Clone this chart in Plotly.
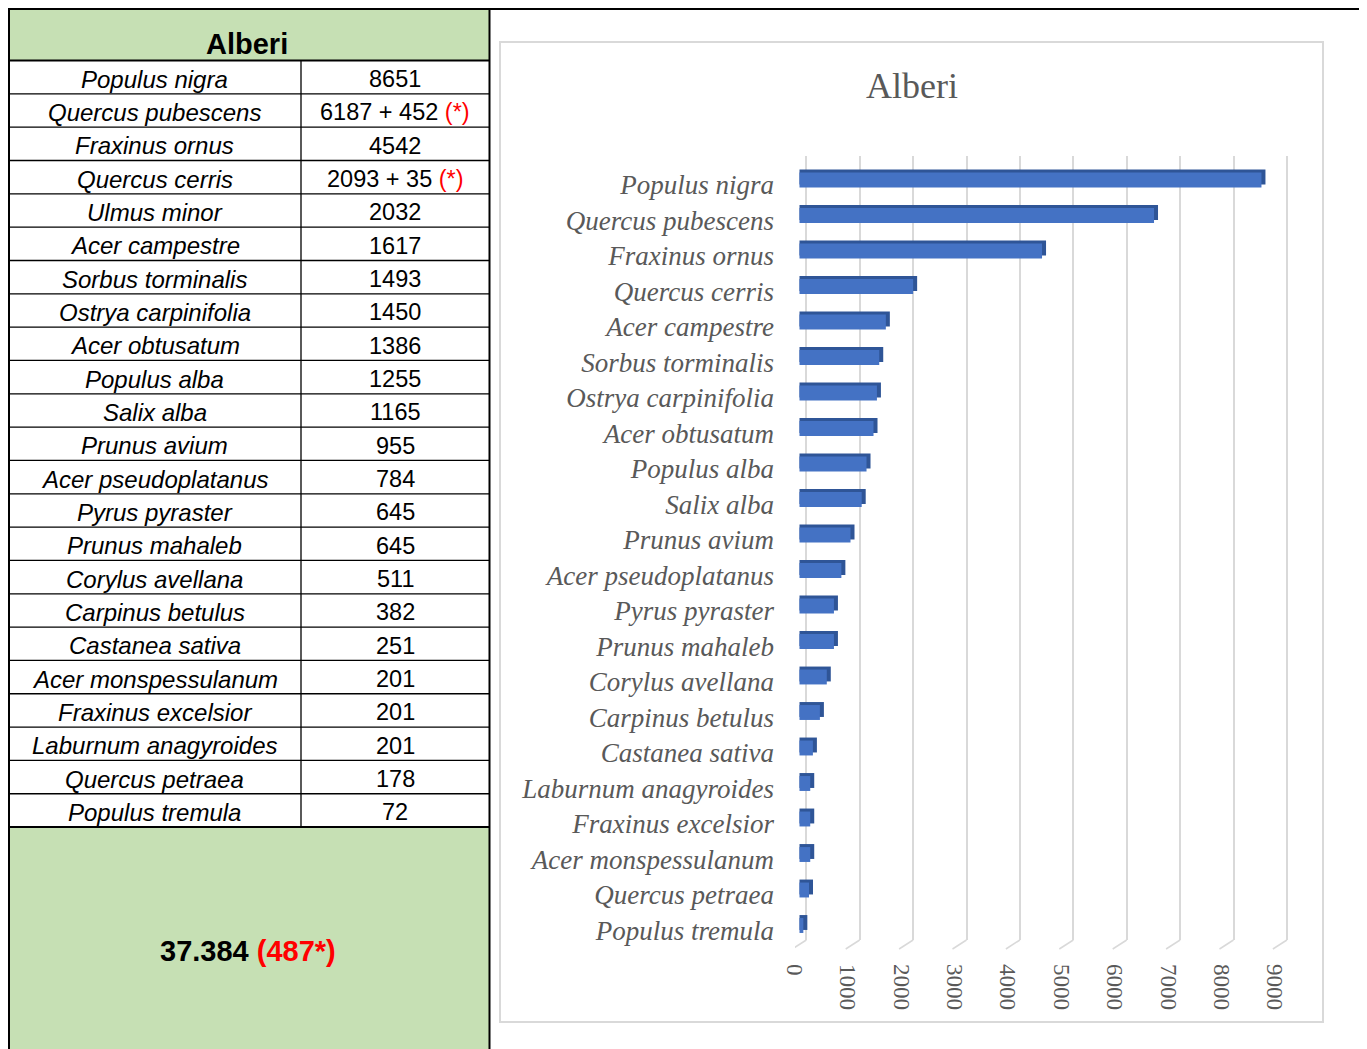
import plotly.graph_objects as go

# The page body keeps its default 8px margin, so the figure covers screen pixels 8..1367 / 8..1049
OFF = 8
W, H = 1367 - OFF, 1049 - OFF

# ---------------- data ----------------
table_title = "Alberi"
table_species = ["Populus nigra", "Quercus pubescens", "Fraxinus ornus", "Quercus cerris",
                 "Ulmus minor", "Acer campestre", "Sorbus torminalis", "Ostrya carpinifolia",
                 "Acer obtusatum", "Populus alba", "Salix alba", "Prunus avium",
                 "Acer pseudoplatanus", "Pyrus pyraster", "Prunus mahaleb", "Corylus avellana",
                 "Carpinus betulus", "Castanea sativa", "Acer monspessulanum",
                 "Fraxinus excelsior", "Laburnum anagyroides", "Quercus petraea",
                 "Populus tremula"]
table_counts = [8651, 6187, 4542, 2093, 2032, 1617, 1493, 1450, 1386, 1255, 1165, 955,
                784, 645, 645, 511, 382, 251, 201, 201, 201, 178, 72]
table_extra = [None, 452, None, 35, None, None, None, None, None, None, None, None,
               None, None, None, None, None, None, None, None, None, None, None]
total_count = "37.384"
total_extra = "487*"

chart_title = "Alberi"
chart_species = ["Populus nigra", "Quercus pubescens", "Fraxinus ornus", "Quercus cerris",
                 "Acer campestre", "Sorbus torminalis", "Ostrya carpinifolia",
                 "Acer obtusatum", "Populus alba", "Salix alba", "Prunus avium",
                 "Acer pseudoplatanus", "Pyrus pyraster", "Prunus mahaleb",
                 "Corylus avellana", "Carpinus betulus", "Castanea sativa",
                 "Laburnum anagyroides", "Fraxinus excelsior", "Acer monspessulanum",
                 "Quercus petraea", "Populus tremula"]
chart_values = [8651, 6639, 4542, 2128, 1617, 1493, 1450, 1386, 1255, 1165, 955, 784,
                645, 645, 511, 382, 251, 201, 201, 201, 178, 72]
x_ticks = [0, 1000, 2000, 3000, 4000, 5000, 6000, 7000, 8000, 9000]

# ---------------- helpers / styles ----------------
def px(x):
    return (x - OFF) / W

def py(y):
    return 1 - (y - OFF) / H

GREEN = "#C6E0B4"
RED = "#FF0000"
GRID = "#D9D9D9"
TXT = "#595959"
BLUE = "#4472C4"
BLUE_DARK = "#2F5597"
SANS = "Liberation Sans, Arial, sans-serif"
SERIF = "Liberation Serif, Times New Roman, serif"

# chart geometry (screen pixels)
D_L, D_R = 795, 1300
Y_TOP, Y_BOT = 156, 940
GRID0_PX, GRID_SCALE = 806.3, 0.0534     # back wall grid: px per unit
FRONT_SHIFT = (806.3 - 799.5) / GRID_SCALE  # perspective: front face of bars starts left of back wall 0
ROW0, ROW_STEP = 180, 35.5
n = len(chart_species)
grid_range = [(D_L - GRID0_PX) / GRID_SCALE, (D_R - GRID0_PX) / GRID_SCALE]
cat_range = [(n - 1) + (Y_BOT - (ROW0 + ROW_STEP * (n - 1))) / ROW_STEP,
             -(ROW0 - Y_TOP) / ROW_STEP]
DEPTH = 4 / GRID_SCALE
BW = 0.42
LIFT = 3 / ROW_STEP

fig = go.Figure()

# 3D-ish side/top of the bars
fig.add_trace(go.Bar(
    x=[v + DEPTH for v in chart_values], y=chart_species, orientation="h",
    base=-FRONT_SHIFT, width=BW, offset=-BW / 2 - LIFT,
    marker=dict(color=BLUE_DARK, line=dict(width=0)),
    xaxis="x", yaxis="y", hoverinfo="skip"))
# front faces
fig.add_trace(go.Bar(
    x=chart_values, y=chart_species, orientation="h",
    base=-FRONT_SHIFT, width=BW, offset=-BW / 2,
    marker=dict(color=BLUE, line=dict(width=0)),
    xaxis="x", yaxis="y", name="Alberi"))

# floor diagonals of the grid lines
fx, fy = [], []
dx = 14 / GRID_SCALE
for t in x_ticks:
    fx += [t, t - dx, None]
    fy += [940, 949, None]
fig.add_trace(go.Scatter(x=fx, y=fy, mode="lines", line=dict(color=GRID, width=1.5),
                         xaxis="x4", yaxis="y4", hoverinfo="skip"))

shapes = []
annotations = []

# ---------------- table ----------------
T_L, T_R, T_MID = 8, 489, 301
HEAD_T, HEAD_B = 10, 60.5
ROW_H = 33.33
n_rows = len(table_species)
BODY_B = HEAD_B + ROW_H * n_rows

def rect(x0, y0, x1, y1, fill):
    shapes.append(dict(type="rect", xref="paper", yref="paper", x0=px(x0), x1=px(x1),
                       y0=py(y1), y1=py(y0), fillcolor=fill, line=dict(width=0), layer="below"))

def line(x0, y0, x1, y1, color="black", width=1.3):
    shapes.append(dict(type="line", xref="paper", yref="paper", x0=px(x0), x1=px(x1),
                       y0=py(y0), y1=py(y1), line=dict(color=color, width=width)))

rect(T_L, HEAD_T, T_R, HEAD_B, GREEN)
rect(T_L, BODY_B, T_R, 1055, GREEN)

for i in range(1, n_rows):
    yy = HEAD_B + ROW_H * i
    line(T_L, yy, T_R, yy)
line(T_MID, HEAD_B, T_MID, BODY_B)
line(T_L, HEAD_B, T_R, HEAD_B, width=2)
line(T_L, BODY_B, T_R, BODY_B, width=2)
line(0, 9, 1367, 9, width=2)
line(8.5, 9, 8.5, 1055, width=3)
line(T_R + 0.5, 9, T_R + 0.5, 1055, width=2)

annotations.append(dict(xref="paper", yref="paper", x=px(247), y=py(44), text="<b>%s</b>" % table_title,
                        showarrow=False, font=dict(family=SANS, size=29, color="black"),
                        xanchor="center", yanchor="middle"))

for i, (sp, c, ex) in enumerate(zip(table_species, table_counts, table_extra)):
    yc = HEAD_B + ROW_H * (i + 0.5) + 2
    annotations.append(dict(xref="paper", yref="paper", x=px((T_L + T_MID) / 2), y=py(yc),
                            text="<i>%s</i>" % sp, showarrow=False,
                            font=dict(family=SANS, size=24, color="black"),
                            xanchor="center", yanchor="middle"))
    if ex is None:
        vt = str(c)
    else:
        vt = "%d + %d <span style='color:%s'>(*)</span>" % (c, ex, RED)
    annotations.append(dict(xref="paper", yref="paper", x=px((T_MID + T_R) / 2), y=py(yc),
                            text=vt, showarrow=False,
                            font=dict(family=SANS, size=23.5, color="black"),
                            xanchor="center", yanchor="middle"))

annotations.append(dict(xref="paper", yref="paper", x=px(248), y=py(951),
                        text="<b>%s <span style='color:%s'>(%s)</span></b>" % (total_count, RED, total_extra),
                        showarrow=False, font=dict(family=SANS, size=29, color="black"),
                        xanchor="center", yanchor="middle"))

# ---------------- chart frame & title ----------------
shapes.append(dict(type="rect", xref="paper", yref="paper", x0=px(500), x1=px(1323),
                   y0=py(1022), y1=py(42), line=dict(color=GRID, width=2), fillcolor="rgba(0,0,0,0)"))
annotations.append(dict(xref="paper", yref="paper", x=px(911.5), y=py(86), text=chart_title,
                        showarrow=False, font=dict(family=SERIF, size=36, color=TXT),
                        xanchor="center", yanchor="middle"))

dom_x = [px(D_L), px(D_R)]
dom_y = [py(Y_BOT), py(Y_TOP)]

fig.update_layout(
    width=W, height=H, autosize=False,
    margin=dict(l=0, r=0, t=0, b=0, pad=0, autoexpand=False),
    paper_bgcolor="white", plot_bgcolor="rgba(0,0,0,0)",
    showlegend=False, barmode="overlay",
    shapes=shapes, annotations=annotations,
    xaxis=dict(domain=dom_x, range=grid_range, anchor="y", tickmode="array", tickvals=x_ticks,
               ticktext=[str(t) for t in x_ticks], tickangle=90, ticks="",
               tickfont=dict(family=SERIF, size=23, color=TXT), automargin=False,
               showgrid=True, gridcolor=GRID, gridwidth=1.5, zeroline=False, showline=False,
               ticklabelshift=-12, ticklabelstandoff=23),
    yaxis=dict(domain=dom_y, range=cat_range, type="category", categoryorder="array",
               categoryarray=chart_species, anchor="x", ticks="", showgrid=False,
               zeroline=False, showline=False, automargin=False,
               tickfont=dict(family=SERIF, size=27, color=TXT, style="italic"),
               ticklabelstandoff=20, ticklabelshift=-5),
    xaxis4=dict(domain=dom_x, range=grid_range, anchor="y4", visible=False, automargin=False),
    yaxis4=dict(domain=[py(960), py(930)], range=[960, 930], anchor="x4", visible=False,
                automargin=False),
)

fig.write_html("out.html", config={"displayModeBar": False})
